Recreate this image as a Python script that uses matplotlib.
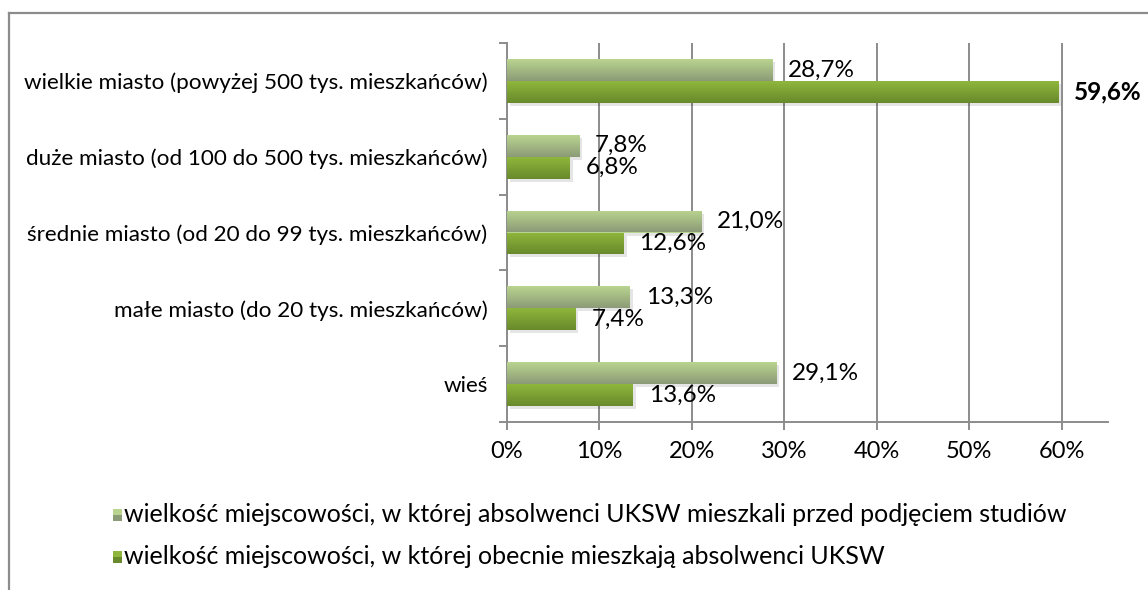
import numpy as np
import matplotlib
matplotlib.use("Agg")
import matplotlib.pyplot as plt
import matplotlib.transforms as mtransforms
from matplotlib.patches import Rectangle
from matplotlib.lines import Line2D
from matplotlib.colors import LinearSegmentedColormap

# ---------------- data ----------------
categories = [
    "wieś",
    "małe miasto (do 20 tys. mieszkańców)",
    "średnie miasto (od 20 do 99 tys. mieszkańców)",
    "duże miasto (od 100 do 500 tys. mieszkańców)",
    "wielkie miasto (powyżej 500 tys. mieszkańców)",
]
before_values = [29.1, 13.3, 21.0, 7.8, 28.7]   # przed podjęciem studiów
now_values = [13.6, 7.4, 12.6, 6.8, 59.6]       # obecnie
series_names = [
    "wielkość miejscowości, w której absolwenci UKSW mieszkali przed podjęciem studiów",
    "wielkość miejscowości, w której obecnie mieszkają absolwenci UKSW",
]
xticks = [0, 10, 20, 30, 40, 50, 60]
xtick_labels = ["0%", "10%", "20%", "30%", "40%", "50%", "60%"]

# ---------------- style ----------------
FONT = ["Lato", "DejaVu Sans"]
plt.rcParams["font.family"] = FONT
W, H = 1148, 590
DPI = 100
GRID = "#8c8c8c"
light_top, light_bot = "#b9d48f", "#8c9b77"
dark_top, dark_bot = "#8fb63c", "#688a2c"
bar_h = 0.29

fig = plt.figure(figsize=(W / DPI, H / DPI), dpi=DPI)
fig.patch.set_facecolor("white")

ax_l, ax_r, ax_t, ax_b = 507, 1108, 43, 422
ax = fig.add_axes([ax_l / W, 1 - ax_b / H, (ax_r - ax_l) / W, (ax_b - ax_t) / H])

cmap_light = LinearSegmentedColormap.from_list("l", [light_bot, light_top])
cmap_dark = LinearSegmentedColormap.from_list("d", [dark_bot, dark_top])
grad = np.linspace(0, 1, 64).reshape(-1, 1)

y = np.arange(len(categories))
shadow_tr = mtransforms.offset_copy(ax.transData, fig=fig, x=3, y=-3, units="dots")


def gradient_bars(values, bottoms, cmap, solid):
    bars = ax.barh(bottoms, values, height=bar_h, align="edge",
                   color=solid, edgecolor="none", zorder=3)
    for b, v in zip(bars, values):
        ax.add_patch(Rectangle((0, b.get_y()), v, bar_h, transform=shadow_tr,
                               facecolor="#000000", alpha=0.10, zorder=2.5,
                               edgecolor="none"))
        im = ax.imshow(grad, cmap=cmap, aspect="auto", origin="lower",
                       extent=[0, v, b.get_y(), b.get_y() + bar_h],
                       zorder=3.5, interpolation="bilinear")
        im.set_clip_path(b)
    return bars


gradient_bars(before_values, y, cmap_light, light_top)
gradient_bars(now_values, y - bar_h, cmap_dark, dark_top)

ax.set_xlim(0, 65)
ax.set_ylim(-0.5, len(categories) - 0.5)

# data labels
max_now = max(now_values)
for vals, bottoms, is_now in ((before_values, y, False), (now_values, y - bar_h, True)):
    for v, b in zip(vals, bottoms):
        bold = is_now and v == max_now
        ax.annotate(f"{v:.1f}%".replace(".", ","), xy=(v, b + bar_h / 2),
                    xytext=(16, 0), textcoords="offset pixels",
                    ha="left", va="center", fontsize=17.5,
                    fontweight="bold" if bold else "normal",
                    color="black", zorder=5, annotation_clip=False)

# grid / x axis
ax.set_xticks(xticks)
ax.set_xticklabels(xtick_labels, fontsize=17)
ax.xaxis.grid(True, color=GRID, linewidth=1.4, zorder=1)
ax.set_axisbelow(True)
ax.tick_params(axis="x", length=6, width=1.4, color=GRID, pad=8)

# y: ticks at boundaries, labels at centers
ax.set_yticks(np.arange(-0.5, len(categories), 1.0))
ax.set_yticklabels([])
ax.set_yticks(y, minor=True)
ax.set_yticklabels(categories, minor=True, fontsize=16.2)
ax.tick_params(axis="y", which="major", length=6, width=1.4, color=GRID)
ax.tick_params(axis="y", which="minor", length=0, pad=14)

for s in ("top", "right"):
    ax.spines[s].set_visible(False)
for s in ("left", "bottom"):
    ax.spines[s].set_color(GRID)
    ax.spines[s].set_linewidth(1.4)

# legend (manual)
leg_rows = [515, 557]
for name, yy, ct, cb in zip(series_names, leg_rows, (light_top, dark_top), (light_bot, dark_bot)):
    sq_x, sq_w, sq_h = 113, 9, 12
    fig.add_artist(Rectangle((sq_x / W, 1 - (yy + sq_h / 2) / H), sq_w / W, sq_h / H,
                             transform=fig.transFigure, facecolor=cb, edgecolor="none"))
    fig.add_artist(Rectangle((sq_x / W, 1 - yy / H), sq_w / W, sq_h / 2 / H,
                             transform=fig.transFigure, facecolor=ct, edgecolor="none"))
    fig.text(124 / W, 1 - yy / H, name, ha="left", va="center", fontsize=18, color="black")

# outer chart border (left and top visible)
fig.add_artist(Line2D([9 / W, 9 / W], [1 - 13 / H, 0], transform=fig.transFigure,
                      color=GRID, linewidth=1.6))
fig.add_artist(Line2D([9 / W, 1], [1 - 13 / H, 1 - 13 / H], transform=fig.transFigure,
                      color=GRID, linewidth=1.6))

fig.savefig("out.png", dpi=DPI, facecolor="white")
